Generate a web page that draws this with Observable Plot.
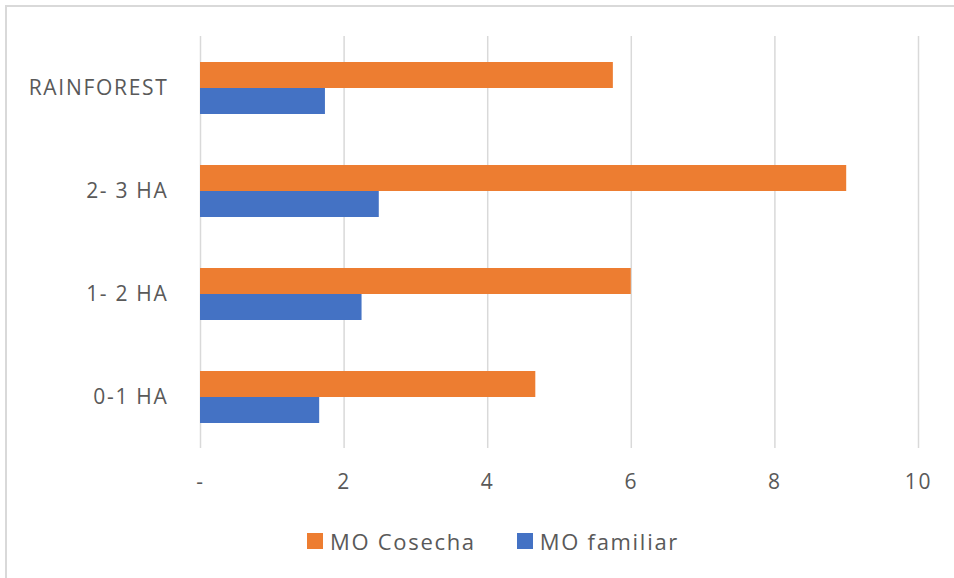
<!DOCTYPE html>
<html>
<head>
<meta charset="utf-8">
<script src="https://cdn.jsdelivr.net/npm/d3@7"></script>
<script src="https://cdn.jsdelivr.net/npm/@observablehq/plot@0.6"></script>
<style>
  html, body { margin: 0; padding: 0; background: #fff; }
  body { width: 954px; height: 578px; position: relative; overflow: hidden; font-family: "Open Sans", sans-serif; }
  #frame { position: absolute; left: 5px; top: 5px; width: 2000px; height: 2000px; border-left: 2px solid #d9d9d9; border-top: 2px solid #d9d9d9; }
  #chart { position: absolute; left: 0; top: 0; }
  #chart svg text { letter-spacing: 1.7px; }
  #legend { position: absolute; left: 307px; top: 526px; display: flex; align-items: center; color: #595959; font-size: 22px; letter-spacing: 1.7px; }
  .item { display: flex; align-items: center; margin-right: 41px; }
  .sw { width: 16px; height: 16px; margin-right: 7px; }
</style>
</head>
<body>
<div id="frame"></div>
<div id="chart"></div>
<div id="legend"></div>
<script>
const categories = ["RAINFOREST", "2- 3 HA", "1- 2 HA", "0-1 HA"];
const series = ["MO Cosecha", "MO familiar"];
const cosecha = [5.75, 9.0, 6.0, 4.67];
const familiar = [1.74, 2.49, 2.25, 1.66];
const xTicks = [0, 2, 4, 6, 8, 10];
const colors = ["#ED7D31", "#4472C4"];

const data = [];
categories.forEach((c, i) => {
  data.push({category: c, series: series[0], value: cosecha[i]});
  data.push({category: c, series: series[1], value: familiar[i]});
});

const chart = Plot.plot({
  width: 954,
  height: 510,
  marginLeft: 200,
  marginRight: 36,
  marginTop: 35,
  marginBottom: 62,
  style: {fontFamily: "Open Sans", fontSize: "21px", color: "#595959", background: "transparent"},
  x: {domain: [0, 10], ticks: xTicks, tickFormat: d => d === 0 ? "-" : String(d), tickSize: 0, tickPadding: 26, label: null},
  fy: {domain: categories, padding: 0, label: null, axis: "left", tickSize: 0, tickPadding: 32},
  y: {domain: series, paddingInner: 0, paddingOuter: 0.9375, axis: null},
  color: {domain: series, range: colors},
  marks: [
    Plot.ruleX(xTicks, {stroke: "#d9d9d9", strokeWidth: 1.5}),
    Plot.barX(data, {fy: "category", y: "series", x: "value", fill: "series"})
  ]
});
document.getElementById("chart").appendChild(chart);

const legend = document.getElementById("legend");
series.forEach((s, i) => {
  const item = document.createElement("div");
  item.className = "item";
  const sw = document.createElement("div");
  sw.className = "sw";
  sw.style.background = colors[i];
  const t = document.createElement("span");
  t.textContent = s;
  item.appendChild(sw);
  item.appendChild(t);
  legend.appendChild(item);
});
</script>
</body>
</html>
